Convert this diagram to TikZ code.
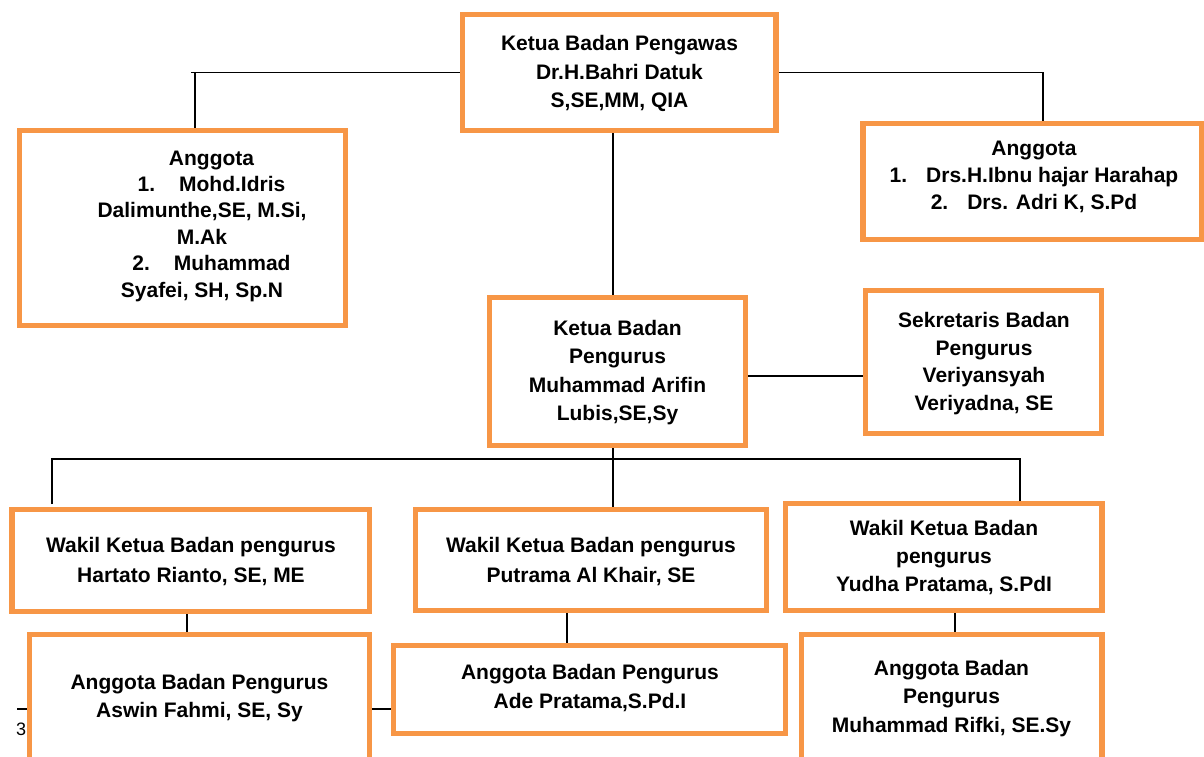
\documentclass[tikz,border=0pt]{standalone}
\usepackage{fontspec}
\setmainfont{Liberation Sans}
\definecolor{boxorange}{RGB}{247,150,70}
\begin{document}
\begin{tikzpicture}[x=1pt,y=-1pt,
  orgbox/.style={draw=boxorange, line width=5.5pt, fill=white, inner sep=0pt},
  txt/.style={align=center, inner sep=0pt, font=\fontsize{21}{#1}\selectfont\bfseries},
  txt/.default=28,
  conn/.style={draw=black, line width=1.3pt}]
\path[use as bounding box] (0,0) rectangle (1204,756);
\clip (0,0) rectangle (1204,756);
\fill[white] (0,0) rectangle (1204,756);

% page number fragment
\node[anchor=base west, inner sep=0pt, font=\fontsize{18}{18}\selectfont] (pnum) at (16,735) {3};

% boxes
\node[orgbox, minimum width=313.5pt, minimum height=116pt] (top) at (619.25,72.5) {};
\node[orgbox, minimum width=326pt, minimum height=195pt] (lbox) at (182.5,228) {};
\node[orgbox, minimum width=338.5pt, minimum height=116pt] (rbox) at (1032.25,181.5) {};
\node[orgbox, minimum width=256pt, minimum height=148pt] (kp) at (617.5,371.5) {};
\node[orgbox, minimum width=236pt, minimum height=143pt] (sek) at (983.5,362) {};
\node[orgbox, minimum width=357.5pt, minimum height=102pt] (w1) at (190.75,560.5) {};
\node[orgbox, minimum width=351pt, minimum height=101pt] (w2) at (591,560) {};
\node[orgbox, minimum width=316.5pt, minimum height=107pt] (w3) at (943.75,557) {};
\node[orgbox, minimum width=340pt, minimum height=145.5pt] (a1) at (199.5,707.25) {};
\node[orgbox, minimum width=392pt, minimum height=88pt] (a2) at (589.5,689.5) {};
\node[orgbox, minimum width=300.5pt, minimum height=145.5pt] (a3) at (951.75,707.25) {};

% texts
\node[txt=28.5] (ttop) at (619.5,73.5) {Ketua Badan Pengawas\\Dr.H.Bahri Datuk\\S,SE,MM, QIA};
\node[txt=26.4] (tl) at (202,226) {\hspace*{19pt}Anggota\\\hspace*{19pt}1.\hspace{24pt}Mohd.Idris\\Dalimunthe,SE, M.Si,\\M.Ak\\\hspace*{19pt}2.\hspace{24pt}Muhammad\\Syafei, SH, Sp.N};
\node[txt=27] (tr) at (1034,177) {Anggota\\1.\hspace{19pt}Drs.H.Ibnu hajar Harahap\\2.\hspace{19pt}Drs. Adri K, S.Pd};
\node[txt=28.3] (tkp) at (617.5,372.5) {Ketua Badan\\Pengurus\\Muhammad Arifin\\Lubis,SE,Sy};
\node[txt=27.7] (tsek) at (984,363.5) {Sekretaris Badan\\Pengurus\\Veriyansyah\\Veriyadna, SE};
\node[txt=30] (tw1) at (191,562) {Wakil Ketua Badan pengurus\\Hartato Rianto, SE, ME};
\node[txt=30] (tw2) at (591,562) {Wakil Ketua Badan pengurus\\Putrama Al Khair, SE};
\node[txt=28] (tw3) at (944,558) {Wakil Ketua Badan\\pengurus\\Yudha Pratama, S.PdI};
\node[txt=28] (ta1) at (199.5,698) {Anggota Badan Pengurus\\Aswin Fahmi, SE, Sy};
\node[txt=29] (ta2) at (590,688.5) {Anggota Badan Pengurus\\Ade Pratama,S.Pd.I};
\node[txt=28.5] (ta3) at (951.5,698.5) {Anggota Badan\\Pengurus\\Muhammad Rifki, SE.Sy};

% connectors
\coordinate (lstub) at (191,72.5);
\coordinate (ks) at (0,376);
\coordinate (bus) at (0,459);
\coordinate (b1) at (52,504);
\coordinate (c3) at (17,709);

\draw[conn] (top.west) -- (lstub);
\draw[conn] ([xshift=12.5pt]lbox.north) -- ([xshift=12.5pt]lbox.north |- top.west);
\draw[conn] (top.east) -| ([xshift=10.75pt]rbox.north);
\draw[conn] ([xshift=-6.25pt]top.south) -- ([xshift=-4.5pt]kp.north);
\draw[conn] (kp.east |- ks) -- (sek.west |- ks);
\draw[conn] ([xshift=-4.5pt]kp.south) -- ([xshift=22pt]w2.north);
\draw[conn] (b1) -- (b1 |- bus) -- ([xshift=76.25pt]w3.north |- bus) -- ([xshift=76.25pt]w3.north);
\draw[conn] ([xshift=-3.75pt]w1.south) -- ([xshift=-12.5pt]a1.north);
\draw[conn] ([xshift=-24pt]w2.south) -- ([xshift=-22.5pt]a2.north);
\draw[conn] ([xshift=11.25pt]w3.south) -- ([xshift=3.25pt]a3.north);
\draw[conn] (c3) -- (a1.west |- c3);
\draw[conn] (a1.east |- c3) -- (a2.west |- c3);
\end{tikzpicture}
\end{document}
